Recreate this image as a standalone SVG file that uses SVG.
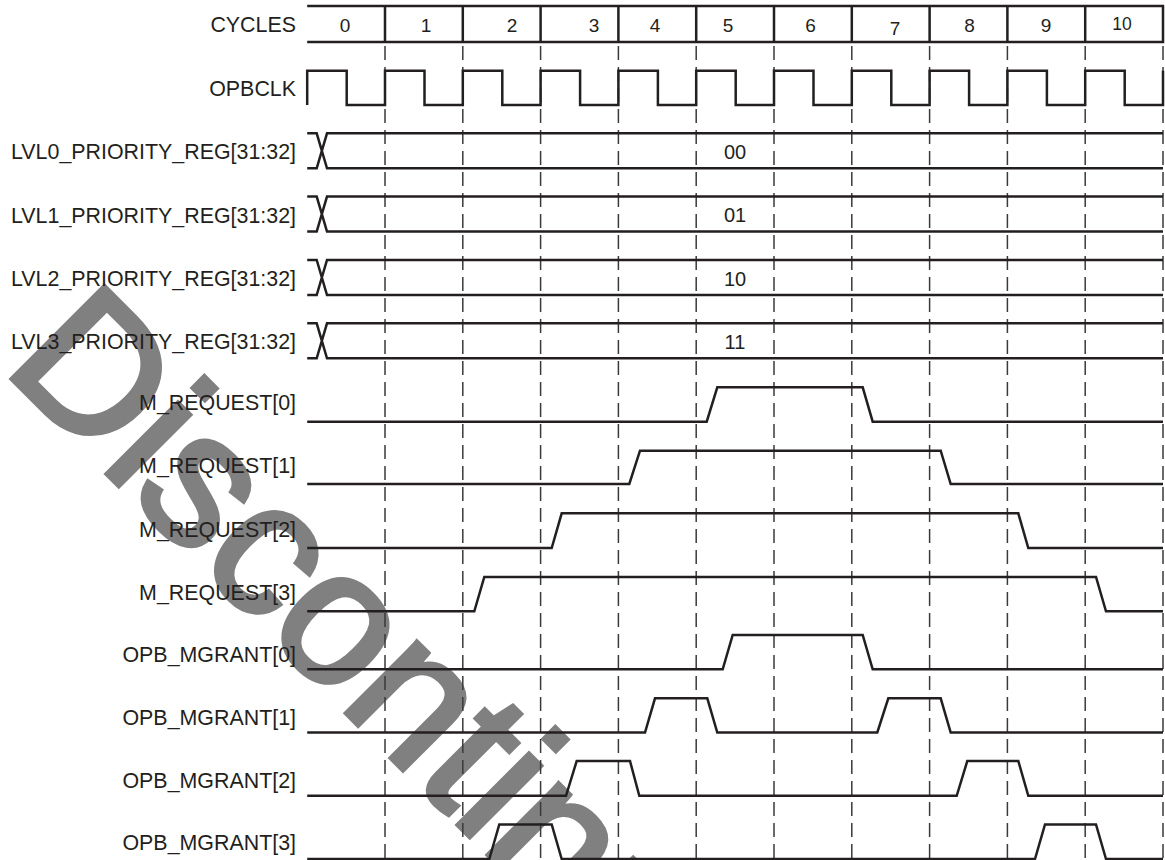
<svg xmlns="http://www.w3.org/2000/svg" width="1165" height="860" viewBox="0 0 1165 860">
<style>
.lbl{font-family:"Liberation Sans",Arial,sans-serif;font-size:21.4px;fill:#231f20;text-anchor:end}
.num{font-family:"Liberation Sans",Arial,sans-serif;font-size:19px;fill:#231f20;text-anchor:middle}
.val{font-family:"Liberation Sans",Arial,sans-serif;font-size:20px;fill:#231f20;text-anchor:middle}
.sig{fill:none;stroke:#231f20;stroke-width:2.5;stroke-linejoin:miter}
.dash{fill:none;stroke:#3a3a3a;stroke-width:1.5;stroke-dasharray:14 7}
.wm{font-family:"Liberation Sans",Arial,sans-serif;font-size:190px;fill:#808080;stroke:#808080;stroke-width:5;stroke-linejoin:miter}
</style>
<rect width="1165" height="860" fill="#ffffff"/>
<text class="wm" transform="translate(1,368) rotate(45)">Discontinued</text>
<g id="grid">
<path class="dash" d="M385,46V860M462.8,46V860M540.6,46V860M618.4,46V860M696.2,46V860M774,46V860M851.8,46V860M929.6,46V860M1007.4,46V860M1085.2,46V860M1163,46V860"/>
</g>
<g id="cycles">
<text class="lbl" x="296" y="32">CYCLES</text>
<path class="sig" d="M307.2,6H1163V42H307.2M385,6V42M462.8,6V42M540.6,6V42M618.4,6V42M696.2,6V42M774,6V42M851.8,6V42M929.6,6V42M1007.4,6V42M1085.2,6V42"/>
<text class="num" x="345" y="32">0</text>
<text class="num" x="426" y="32">1</text>
<text class="num" x="512" y="32">2</text>
<text class="num" x="594" y="32">3</text>
<text class="num" x="655" y="32">4</text>
<text class="num" x="728" y="32">5</text>
<text class="num" x="810.5" y="32">6</text>
<text class="num" x="895" y="35">7</text>
<text class="num" x="969.5" y="32">8</text>
<text class="num" x="1046" y="32">9</text>
<text class="num" x="1122" y="30" style="font-size:17.5px">10</text>
</g>
<g id="opbclk">
<text class="lbl" x="296" y="96">OPBCLK</text>
<path class="sig" d="M307.2,105V70.7H346.7V105H385V70.7H424.5V105H462.8V70.7H502.3V105H540.6V70.7H580.1V105H618.4V70.7H657.9V105H696.2V70.7H735.7V105H774V70.7H813.5V105H851.8V70.7H891.3V105H929.6V70.7H969.1V105H1007.4V70.7H1046.9V105H1085.2V70.7H1124.7V105H1163V70.7"/>
</g>
<g id="lvl0">
<text class="lbl" x="296" y="159.3">LVL0_PRIORITY_REG[31:32]</text>
<path class="sig" d="M307.2,133.3H316.7L327,168.3H1163M307.2,168.3H316.7L327,133.3H1163"/>
<text class="val" x="735" y="159">00</text>
</g>
<g id="lvl1">
<text class="lbl" x="296" y="222.6">LVL1_PRIORITY_REG[31:32]</text>
<path class="sig" d="M307.2,196.6H316.7L327,231.6H1163M307.2,231.6H316.7L327,196.6H1163"/>
<text class="val" x="735" y="222.3">01</text>
</g>
<g id="lvl2">
<text class="lbl" x="296" y="285.9">LVL2_PRIORITY_REG[31:32]</text>
<path class="sig" d="M307.2,260H316.7L327,295H1163M307.2,295H316.7L327,260H1163"/>
<text class="val" x="735" y="285.6">10</text>
</g>
<g id="lvl3">
<text class="lbl" x="296" y="348.5">LVL3_PRIORITY_REG[31:32]</text>
<path class="sig" d="M307.2,323.3H316.7L327,358.3H1163M307.2,358.3H316.7L327,323.3H1163"/>
<text class="val" x="735" y="349">11</text>
</g>
<g id="mreq0">
<text class="lbl" x="296" y="410">M_REQUEST[0]</text>
<path class="sig" d="M307.2,421.7H706.7L717.3,387.3H862.7L872.7,421.7H1163"/>
</g>
<g id="mreq1">
<text class="lbl" x="296" y="473.3">M_REQUEST[1]</text>
<path class="sig" d="M307.2,484H629.3L640,450.7H940.7L950.7,484H1163"/>
</g>
<g id="mreq2">
<text class="lbl" x="296" y="536.7">M_REQUEST[2]</text>
<path class="sig" d="M307.2,548H551.7L561.7,513.3H1018.3L1028.3,548H1163"/>
</g>
<g id="mreq3">
<text class="lbl" x="296" y="600">M_REQUEST[3]</text>
<path class="sig" d="M307.2,611.3H474.3L484.3,577H1096L1106,611.3H1163"/>
</g>
<g id="mgrant0">
<text class="lbl" x="296" y="662">OPB_MGRANT[0]</text>
<path class="sig" d="M307.2,669.3H722.7L732.7,635H862.7L872.7,669.3H1163"/>
</g>
<g id="mgrant1">
<text class="lbl" x="296" y="725">OPB_MGRANT[1]</text>
<path class="sig" d="M307.2,732.5H645L655,698.3H707.3L717.3,732.5H877.3L888.3,698.3H940.7L950.7,732.5H1163"/>
</g>
<g id="mgrant2">
<text class="lbl" x="296" y="787.5">OPB_MGRANT[2]</text>
<path class="sig" d="M307.2,795.8H566L576.7,761H630L639.3,795.8H956.7L967.3,761H1018.3L1028.3,795.8H1163"/>
</g>
<g id="mgrant3">
<text class="lbl" x="296" y="850">OPB_MGRANT[3]</text>
<path class="sig" d="M307.2,859H489.3L499.3,824.5H551.7L561.7,859H1035L1045,824.5H1096L1106,859H1163"/>
</g>
</svg>
